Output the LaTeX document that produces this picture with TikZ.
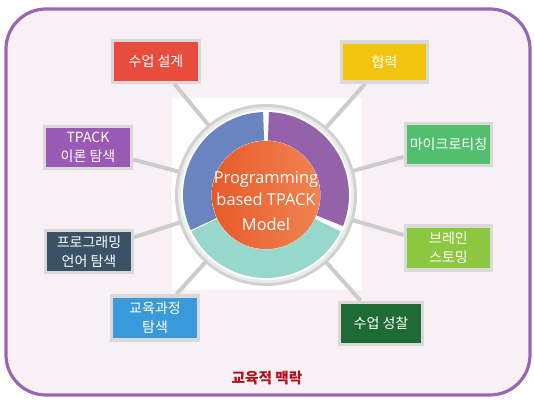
\documentclass[tikz,border=0pt]{standalone}
\usepackage{fontspec}
\newfontfamily\kr{Noto Sans CJK KR}
\newfontfamily\os{Open Sans}
\usetikzlibrary{calc}
\definecolor{bgc}{HTML}{F8F0F5}
\definecolor{bordc}{HTML}{9966B4}
\definecolor{cred}{HTML}{E74C3C}
\definecolor{cyel}{HTML}{F1C40F}
\definecolor{cpur}{HTML}{9B59B6}
\definecolor{cgrn}{HTML}{52BE6E}
\definecolor{cslate}{HTML}{3B5266}
\definecolor{clime}{HTML}{8DC63F}
\definecolor{cblue}{HTML}{3A9AD9}
\definecolor{cdkg}{HTML}{1E6B34}
\definecolor{rblue}{HTML}{6A84C0}
\definecolor{rpur}{HTML}{9462A8}
\definecolor{rteal}{HTML}{98D7CC}
\definecolor{oleft}{HTML}{E85A2A}
\definecolor{oright}{HTML}{F08452}
\definecolor{ctitle}{HTML}{B0101E}
\pgfdeclarelayer{back}
\pgfdeclarelayer{conn}
\pgfsetlayers{back,conn,main}
\tikzset{
  box/.style={draw=black!15, line width=2.4pt, inner sep=0pt, minimum width=65pt, minimum height=31pt,
    text=white, font=\kr\fontsize{10.5}{14.5}\selectfont, align=center},
  conn/.style={draw=black!20, line width=3pt},
  ctext/.style={text=white, font=\os\fontsize{12.3}{14}\selectfont, inner sep=0pt}
}
\newcommand{\ringsec}[4]{% color, start, end (tikz angles)
  \fill[#1] ($(c)+(#2:83)$) arc[start angle=#2, end angle=#3, radius=83]
    -- ($(c)+(#3:54.5)$) arc[start angle=#3, end angle=#2, radius=54.5] -- cycle;}
\begin{document}
\begin{tikzpicture}[x=0.75pt,y=-0.75pt]
\useasboundingbox (0,0) rectangle (534,402);
\coordinate (c) at (266,195);
\begin{pgfonlayer}{back}
\draw[draw=bordc, fill=bgc, line width=2.4pt, rounded corners=30pt] (6,9) rectangle (530,395);
\fill[white] (172,98) rectangle (362,290);
\end{pgfonlayer}
% boxes
\node[box, fill=cred, minimum height=31pt] (b1) at (156,61.5) {수업 설계};
\node[box, fill=cyel, minimum width=64pt, minimum height=30pt] (b2) at (384.5,62) {협력};
\node[box, fill=cpur] (b3) at (88,147.5) {TPACK\\이론 탐색};
\node[box, fill=cgrn] (b4) at (448.5,144.5) {마이크로티칭};
\node[box, fill=cslate] (b5) at (89,251.5) {프로그래밍\\언어 탐색};
\node[box, fill=clime, minimum height=33pt] (b6) at (448.5,248) {브레인\\스토밍};
\node[box, fill=cblue, minimum height=33pt] (b7) at (155,318) {교육과정\\탐색};
\node[box, fill=cdkg, minimum width=62pt, minimum height=32pt] (b8) at (381,323.5) {수업 성찰};
% connectors
\begin{pgfonlayer}{conn}
\foreach \b in {b1,b2,b3,b4,b5,b6,b7,b8}{\draw[conn] (\b) -- (c);}
\end{pgfonlayer}
% circle
\fill[black!18] (c) circle[radius=91];
\fill[black!8] (c) circle[radius=88];
\fill[white] (c) circle[radius=85];
\ringsec{rblue}{-92}{-205}{}
\ringsec{rpur}{22}{-88}{}
\ringsec{rteal}{26}{154}{}
\fill[oleft!70!oright] (c) circle[radius=54];
\begin{scope}
\clip ($(c)+(-54,-54)$) rectangle ($(c)+(54,54)$);
\shade[left color=oleft, right color=oright] (c) circle[radius=40.5pt];
\end{scope}
\node[ctext] (t1) at (266,179) {Programming};
\node[ctext] (t2) at (266,199) {based TPACK};
\node[ctext] (t3) at (266,224) {Model};
\node[text=ctitle, font=\kr\bfseries\fontsize{11}{13}\selectfont, inner sep=0pt] (tt) at (267,378) {교육적 맥락};
\end{tikzpicture}
\end{document}
